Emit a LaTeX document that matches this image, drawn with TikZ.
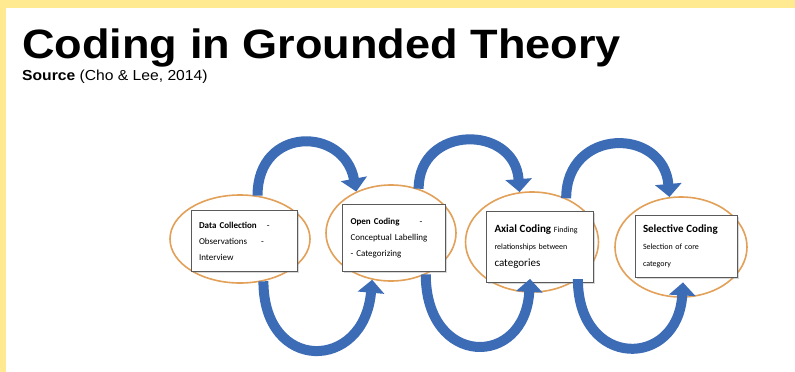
\documentclass[tikz,border=0pt]{standalone}
\usepackage{fontspec}
\setmainfont{Liberation Sans}
\newfontfamily\calibri{Carlito}
\usepackage{tikz}
\usetikzlibrary{arrows.meta,shapes,positioning,shadows}
\definecolor{slideyellow}{RGB}{255,234,145}
\definecolor{arcblue}{RGB}{61,108,182}
\definecolor{ringorange}{RGB}{226,160,88}
\definecolor{boxgray}{RGB}{90,90,90}
\tikzstyle{ring} = [ellipse, draw=ringorange, line width=1.6pt]
\tikzstyle{stepbox} = [rectangle, draw=boxgray, fill=white, line width=0.8pt, inner xsep=8pt, align=left, font=\calibri\fontsize{9}{16}\selectfont, drop shadow={shadow xshift=1.5pt,shadow yshift=-1.5pt,opacity=0.3}]
\tikzstyle{loop} = [line width=10pt, color=arcblue, -{Triangle[width=26pt,length=13pt]}]

\begin{document}
\begin{tikzpicture}[x=1pt, y=-1pt]
\useasboundingbox (0,0) rectangle (795,372);
\fill[white] (0,0) rectangle (795,372);
\fill[slideyellow] (0,0) rectangle (795,8);
\fill[slideyellow] (0,0) rectangle (6,372);

\node[anchor=base west, inner sep=0pt, font=\fontsize{41}{41}\selectfont\bfseries] (title) at (22,58) {\scalebox{1.1}[1]{Coding in Grounded Theory}};
\node[anchor=base west, inner sep=0pt, font=\fontsize{14.5}{15}\selectfont] (source) at (22,80) {\scalebox{1.08}[1]{\textbf{Source} (Cho \& Lee, 2014)}};

\node[ring, minimum width=140pt, minimum height=88pt] (el1) at (240,239) {};
\node[ring, minimum width=130pt, minimum height=96pt] (el2) at (391,233) {};
\node[ring, minimum width=133pt, minimum height=100pt] (el3) at (532,242) {};
\node[ring, minimum width=132pt, minimum height=100pt] (el4) at (681,247) {};

\node[stepbox, text width=90pt, minimum height=61pt] (bx1) at (244,241) {\textbf{Data Collection}\hspace{10pt}-\\Observations\hspace{14pt}-\\Interview};
\node[stepbox, text width=87pt, minimum height=67pt] (bx2) at (394,238) {\textbf{Open Coding}\hspace{20pt}-\\Conceptual Labelling\\- Categorizing};
\node[stepbox, text width=91pt, minimum height=71pt, font=\calibri\fontsize{8}{17}\selectfont] (bx3) at (540,247) {{\fontsize{11}{13}\selectfont\textbf{Axial Coding}} Finding\\relationships between\\{\fontsize{11}{13}\selectfont categories}};
\node[stepbox, text width=86pt, minimum height=62pt, font=\calibri\fontsize{8}{17}\selectfont] (bx4) at (686,246) {{\fontsize{11}{13}\selectfont\textbf{Selective Coding}}\\Selection of core\\category};

\draw[loop] (el1.68) .. controls +(0,-70) and +(-12,-65) .. (el2.130);
\draw[loop] (el2.58) .. controls +(0,-64) and +(-5,-68) .. (el3.104);
\draw[loop] (el3.52) .. controls +(0,-71) and +(-6,-70) .. (el4.103);

\draw[loop] (el1.299) .. controls +(0,92) and +(-8,92) .. (el2.248);
\draw[loop] (el2.310) .. controls +(0,93) and +(-5,90) .. ([shift={(-10pt,4pt)}]bx3.south);
\draw[loop] (el3.321) .. controls +(0,90) and +(-5,87) .. ([shift={(-3pt,-5pt)}]bx4.south);
\end{tikzpicture}
\end{document}
